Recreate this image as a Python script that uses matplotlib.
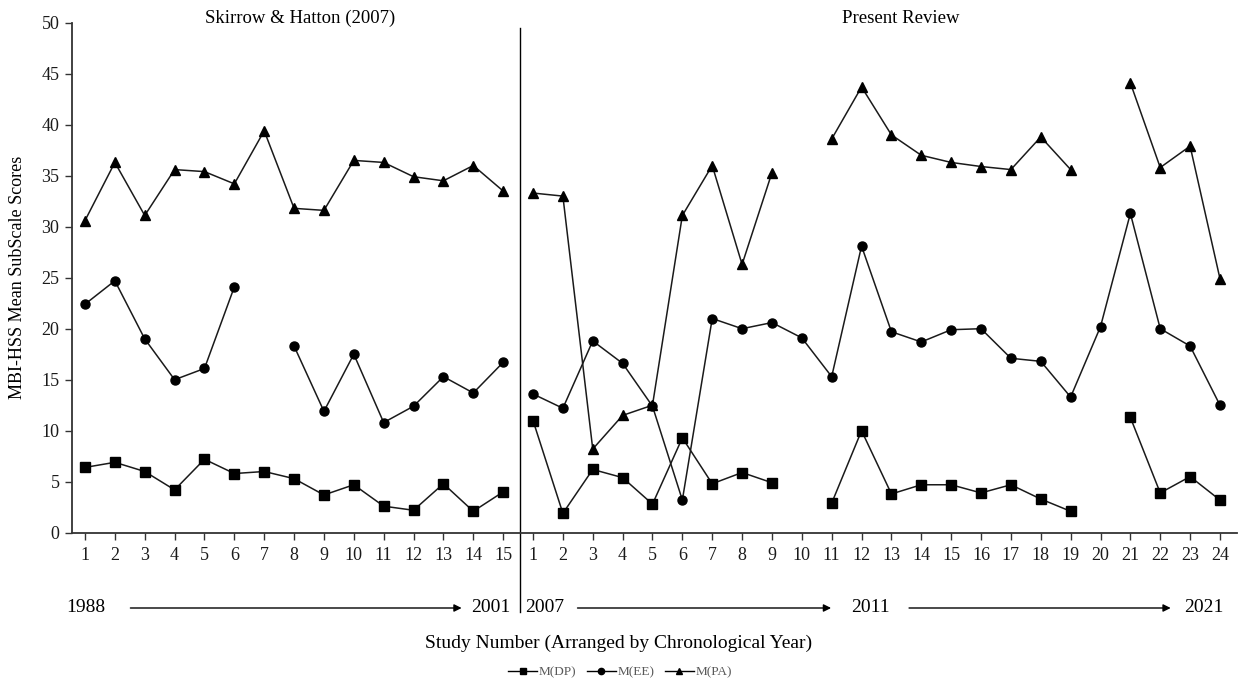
import numpy as np
import matplotlib
matplotlib.use("Agg")
import matplotlib.pyplot as plt
from matplotlib.lines import Line2D
import matplotlib.transforms as mtransforms

plt.rcParams['font.family'] = ['Liberation Serif', 'DejaVu Serif']

nan = np.nan

# Study numbers within each review
studies_sh = list(range(1, 16))   # Skirrow & Hatton (2007)
studies_pr = list(range(1, 25))   # Present Review
tick_labels = [str(s) for s in studies_sh] + [str(s) for s in studies_pr]

# Mean subscale scores, Skirrow & Hatton (2007)
dp_sh = [6.4, 6.9, 6.0, 4.2, 7.2, 5.8, 6.0, 5.3, 3.7, 4.7, 2.6, 2.2, 4.8, 2.1, 4.0]
ee_sh = [22.4, 24.7, 19.0, 15.0, 16.1, 24.1, nan, 18.3, 11.9, 17.5, 10.8, 12.4, 15.3, 13.7, 16.7]
pa_sh = [30.6, 36.3, 31.1, 35.6, 35.4, 34.2, 39.4, 31.8, 31.6, 36.5, 36.3, 34.9, 34.5, 36.0, 33.5]

# Mean subscale scores, Present Review
dp_pr = [11.0, 1.9, 6.2, 5.4, 2.8, 9.3, 4.8, 5.9, 4.9, nan, 2.9, 10.0,
         3.8, 4.7, 4.7, 3.9, 4.7, 3.3, 2.1, nan, 11.3, 3.9, 5.5, 3.2]
ee_pr = [13.6, 12.2, 18.8, 16.6, 12.4, 3.2, 21.0, 20.0, 20.6, 19.1, 15.3, 28.1,
         19.7, 18.7, 19.9, 20.0, 17.1, 16.8, 13.3, 20.2, 31.3, 20.0, 18.3, 12.5]
pa_pr = [33.3, 33.0, 8.2, 11.5, 12.5, 31.1, 36.0, 26.3, 35.3, nan, 38.6, 43.7,
         39.0, 37.0, 36.3, 35.9, 35.6, 38.8, 35.6, nan, 44.1, 35.8, 37.9, 24.9]

# Period labels under the study numbers
year_labels = ["1988", "2001", "2007", "2011", "2021"]
section_titles = ["Skirrow & Hatton (2007)", "Present Review"]

n_sh = len(studies_sh)
n_pr = len(studies_pr)
x_sh = np.arange(n_sh)
x_pr = np.arange(n_pr) + n_sh
x_all = np.arange(n_sh + n_pr)

W, H = 1238, 685
fig = plt.figure(figsize=(W / 100, H / 100), dpi=100)
ax = fig.add_axes([72 / W, 1 - 532.7 / H, (1237 - 72) / W, 510 / H])

line_kw = dict(color='#1a1a1a', lw=1.1, markerfacecolor='black', markeredgecolor='black')

series = [
    ('M(DP)', 's', 6.5, dp_sh, dp_pr, 3),
    ('M(EE)', 'o', 6.5, ee_sh, ee_pr, 4),
    ('M(PA)', '^', 7.0, pa_sh, pa_pr, 2),
]
for name, mk, ms, v_sh, v_pr, z in series:
    ax.plot(x_sh, v_sh, marker=mk, ms=ms, zorder=z, **line_kw)
    ax.plot(x_pr, v_pr, marker=mk, ms=ms, zorder=z, **line_kw)

ax.set_ylim(0, 50)
ax.set_yticks(np.arange(0, 51, 5))
ax.set_xlim(-0.435, 38.57)
ax.set_xticks(x_all)
ax.set_xticklabels(tick_labels)

for s in ['top', 'right']:
    ax.spines[s].set_visible(False)
for s in ['left', 'bottom']:
    ax.spines[s].set_color('#333333')
    ax.spines[s].set_linewidth(1.3)
ax.tick_params(axis='both', direction='out', length=5, width=1.0, color='#333333',
               labelsize=13, colors='#1a1a1a')
ax.tick_params(axis='x', pad=5)
ax.tick_params(axis='y', pad=4)

# Divider between the two reviews
trans = mtransforms.blended_transform_factory(ax.transData, ax.transAxes)
ax.plot([14.55, 14.55], [0.9896, -0.1555], transform=trans, color='black',
        lw=1.0, clip_on=False)

# Section titles
ax.text(7.2, 1.009, section_titles[0], transform=trans, ha='center', va='center', fontsize=13.5)
ax.text(27.3, 1.009, section_titles[1], transform=trans, ha='center', va='center', fontsize=13.5)

# Year row with arrows
yr_y = (532.7 - 608) / 510
for lab, xpos in zip(year_labels, [0.02, 13.58, 15.4, 26.3, 37.46]):
    ax.text(xpos, yr_y, lab, transform=trans, ha='center', va='center', fontsize=14)
for x0, x1 in [(1.52, 12.61), (16.49, 24.98), (27.59, 36.35)]:
    ax.annotate('', xy=(x1, yr_y), xytext=(x0, yr_y), xycoords=trans, textcoords=trans,
                arrowprops=dict(arrowstyle='-|>', lw=1.0, color='black',
                                mutation_scale=11, shrinkA=0, shrinkB=0))

# Axis titles
fig.text(18 / W, 1 - 277 / H, 'MBI-HSS Mean SubScale Scores', rotation=90,
         ha='center', va='center', fontsize=13)
fig.text(619 / W, 1 - 643 / H, 'Study Number (Arranged by Chronological Year)',
         ha='center', va='center', fontsize=14)

# Legend
handles = [Line2D([0], [0], color='black', lw=1.0, marker=mk, ms=4.5,
                  markerfacecolor='black', markeredgecolor='black')
           for _, mk, *_ in series]
fig.legend(handles, [s[0] for s in series], loc='center', bbox_to_anchor=(620 / W, 1 - 672 / H),
           ncol=3, frameon=False, fontsize=9.5, handlelength=2.2, handletextpad=0.1,
           columnspacing=0.8, labelcolor='#595959')

fig.savefig('out.png', dpi=100)
